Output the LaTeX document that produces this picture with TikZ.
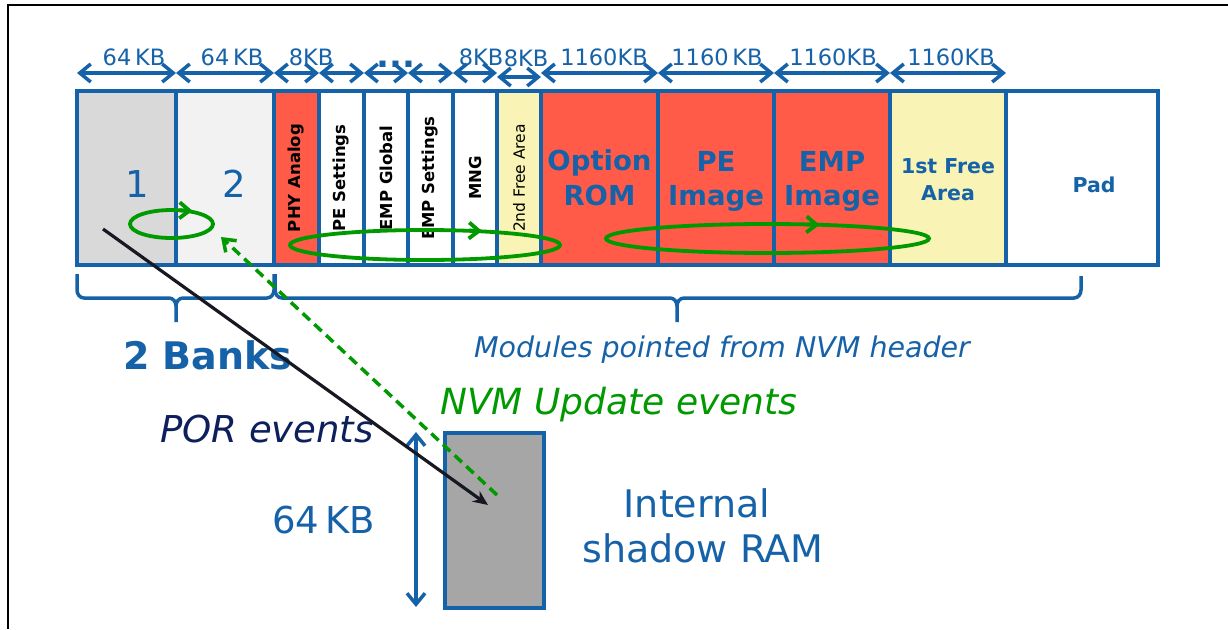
\documentclass[tikz,border=0pt]{standalone}
\usepackage{fontspec}
\setmainfont{DejaVu Sans}
\usetikzlibrary{arrows.meta,calc,shapes.geometric}
\definecolor{nvblue}{RGB}{22,98,168}
\definecolor{nvred}{RGB}{255,91,72}
\definecolor{nvyellow}{RGB}{249,244,181}
\definecolor{nvgray}{RGB}{217,217,217}
\definecolor{nvlight}{RGB}{242,242,242}
\definecolor{nvram}{RGB}{166,166,166}
\definecolor{nvgreen}{RGB}{0,153,0}
\definecolor{nvnavy}{RGB}{14,32,92}
\definecolor{nvblack}{RGB}{24,24,34}
\newcommand{\fsz}[1]{\fontsize{#1pt}{#1pt}\selectfont}
\begin{document}
\begin{tikzpicture}[x=1pt,y=-1pt,
  memcell/.style={draw=nvblue, line width=3.6pt, anchor=north west, minimum height=174pt, inner sep=0pt, outer sep=0pt, font=\bfseries\fsz{16.5}},
  dimarrow/.style={draw=nvblue, line width=3.5pt, {Straight Barb[length=11pt,width=18pt]}-{Straight Barb[length=11pt,width=18pt]}},
  dimlab/.style={text=nvblue, font=\fsz{22.5}, anchor=base, inner sep=0pt},
  biglab/.style={text=nvblue, font=\bfseries\fsz{27.5}, anchor=base, inner sep=0pt},
  midlab/.style={text=nvblue, font=\bfseries\fsz{20.5}, anchor=base, inner sep=0pt},
  greenloop/.style={draw=nvgreen, line width=3.8pt, ellipse, inner sep=0pt, outer sep=0pt},
  looptip/.style={draw=nvgreen, line width=3.8pt, -{Straight Barb[length=10pt,width=16pt]}},
  bracepath/.style={draw=nvblue, line width=3.5pt},
  porline/.style={draw=nvblack, line width=3.2pt, -{Stealth[length=15pt,width=13pt]}},
  updline/.style={draw=nvgreen, line width=3.5pt, dash pattern=on 10pt off 6pt, -{Straight Barb[length=11pt,width=16pt]}},
  txt/.style={inner sep=0pt}
]
\useasboundingbox (0,0) rectangle (1228,629);
\fill[white] (0,0) rectangle (1228,629);
% frame
\draw[line width=2.2pt, black] (8,629) -- (8,5) -- (1228,5);

% memory cells
\node[memcell, fill=nvgray,   minimum width=99pt]  (c1)  at (77,91)   {};
\node[memcell, fill=nvlight,  minimum width=98pt]  (c2)  at (176,91)  {};
\node[memcell, fill=nvred,    minimum width=45pt]  (c3)  at (274,91)  {\rotatebox{90}{PHY Analog}};
\node[memcell, fill=white,    minimum width=45pt]  (c4)  at (319,91)  {\rotatebox{90}{PE Settings}};
\node[memcell, fill=white,    minimum width=44pt]  (c5)  at (364,91)  {\rotatebox{90}{EMP Global}};
\node[memcell, fill=white,    minimum width=45pt]  (c6)  at (408,91)  {\rotatebox{90}{EMP Settings}};
\node[memcell, fill=white,    minimum width=44pt]  (c7)  at (453,91)  {\rotatebox{90}{MNG}};
\node[memcell, fill=nvyellow, minimum width=44pt, font=\fsz{15.5}] (c8) at (497,91) {\rotatebox{90}{2nd Free Area}};
\node[memcell, fill=nvred,    minimum width=117pt] (c9)  at (541,91)  {};
\node[memcell, fill=nvred,    minimum width=116pt] (c10) at (658,91)  {};
\node[memcell, fill=nvred,    minimum width=116pt] (c11) at (774,91)  {};
\node[memcell, fill=nvyellow, minimum width=116pt] (c12) at (890,91)  {};
\node[memcell, fill=white,    minimum width=152pt] (c13) at (1006,91) {};

% cell labels
\node[txt, text=nvblue, font=\fsz{37}, anchor=base] (n1) at (137,197) {1};
\node[txt, text=nvblue, font=\fsz{37}, anchor=base] (n2) at (234,197) {2};
\node[biglab] (opt1) at (599.5,170) {Option};
\node[biglab] (opt2) at (599.5,205) {ROM};
\node[biglab] (pe1)  at (716,171) {PE};
\node[biglab] (pe2)  at (716,205) {Image};
\node[biglab] (emp1) at (832,171) {EMP};
\node[biglab] (emp2) at (832,205) {Image};
\node[midlab] (fr1)  at (948,173) {1st Free};
\node[midlab] (fr2)  at (948,200) {Area};
\node[midlab] (pad)  at (1094,192) {Pad};

% dimension arrows
\foreach \n/\x in {d0/77,d1/176,d2/274,d3/319,d4/364,d5/408,d6/453,d7/497,d9/658,d10/774,d11/890,d12/1006}
  \coordinate (\n) at (\x,73);
\coordinate (d8) at (541,73);
\coordinate (e7) at (497,77);
\coordinate (e8) at (541,77);
\draw[dimarrow] (d0) -- (d1);
\draw[dimarrow] (d1) -- (d2);
\draw[dimarrow] (d2) -- (d3);
\draw[dimarrow] (d3) -- (d4);
\draw[dimarrow] (d4) -- (d5);
\draw[dimarrow] (d5) -- (d6);
\draw[dimarrow] (d6) -- (d7);
\draw[dimarrow] (e7) -- (e8);
\draw[dimarrow] (d8) -- (d9);
\draw[dimarrow] (d9) -- (d10);
\draw[dimarrow] (d10) -- (d11);
\draw[dimarrow] (d11) -- (d12);
\node[dimlab] (l0) at (134,65) {64\,KB};
\node[dimlab] (l1) at (232,65) {64\,KB};
\node[dimlab] (l2) at (311,65) {8KB};
\node[dimlab, font=\bfseries\fsz{34}] (l3) at (396,67) {...};
\node[dimlab] (l4) at (481,65) {8KB};
\node[dimlab] (l5) at (526,66) {8KB};
\node[dimlab] (l6) at (604,65) {1160KB};
\node[dimlab] (l7) at (717,65) {1160\,KB};
\node[dimlab] (l8) at (833,65) {1160KB};
\node[dimlab] (l9) at (951,65) {1160KB};

% green loops
\node[greenloop, minimum width=83pt, minimum height=28pt] (g1) at (171.5,224) {};
\node[greenloop, minimum width=270pt, minimum height=30pt] (g2) at (425,245) {};
\node[greenloop, minimum width=323pt, minimum height=29pt] (g3) at (767.5,238.5) {};
\draw[looptip] ($(g1.north)+(8,0.3)$) -- ($(g1.north)+(21,0.8)$);
\draw[looptip] ($(g2.north)+(44,0.5)$) -- ($(g2.north)+(57,1)$);
\draw[looptip] ($(g3.north)+(39,0.4)$) -- ($(g3.north)+(52,0.8)$);

% braces
\draw[bracepath] (77,274) -- (77,290) to[out=-90,in=180] (84,298) -- (169,298) to[out=0,in=90] (176,306) -- (176,322);
\draw[bracepath] (176,306) to[out=90,in=180] (183,298) -- (267,298) to[out=0,in=-90] (274,290) -- (274,274);
\draw[bracepath] (275,274) -- (275,290) to[out=-90,in=180] (282,298) -- (670,298) to[out=0,in=90] (677,306) -- (677,322);
\draw[bracepath] (677,306) to[out=90,in=180] (684,298) -- (1074,298) to[out=0,in=-90] (1081,290) -- (1081,276);

% lower texts
\node[txt, text=nvblue, font=\bfseries\fsz{38}, anchor=base west] (banks) at (123,369) {2 Banks};
\node[txt, text=nvblue, font=\itshape\fsz{28.5}, anchor=base] (mods) at (722,357) {Modules pointed from NVM header};
\node[txt, text=nvgreen, font=\itshape\fsz{36}, anchor=base west] (upd) at (440,414) {NVM Update events};
\node[txt, text=nvnavy, font=\itshape\fsz{37}, anchor=base west] (por) at (160,442) {POR events};
\node[txt, text=nvblue, font=\fsz{37}, anchor=base west] (sz) at (272,533) {64\,KB};
\node[txt, text=nvblue, font=\fsz{38}, anchor=base] (int1) at (697,517) {Internal};
\node[txt, text=nvblue, font=\fsz{38}, anchor=base] (int2) at (703,562) {shadow RAM};

% shadow RAM
\node[draw=nvblue, line width=3.6pt, fill=nvram, anchor=north west, minimum width=99pt, minimum height=175pt, inner sep=0pt] (ram) at (443,431) {};
\coordinate (vt) at (416,432);
\coordinate (vb) at (416,607);
\draw[dimarrow] (vt) -- (vb);

% event arrows
\coordinate (porA) at (103,229);
\coordinate (porB) at (488,505);
\draw[porline] (porA) -- (porB);
\coordinate (updA) at (497,495);
\coordinate (updB) at (221,237);
\draw[updline] (updA) -- (updB);
\end{tikzpicture}
\end{document}
